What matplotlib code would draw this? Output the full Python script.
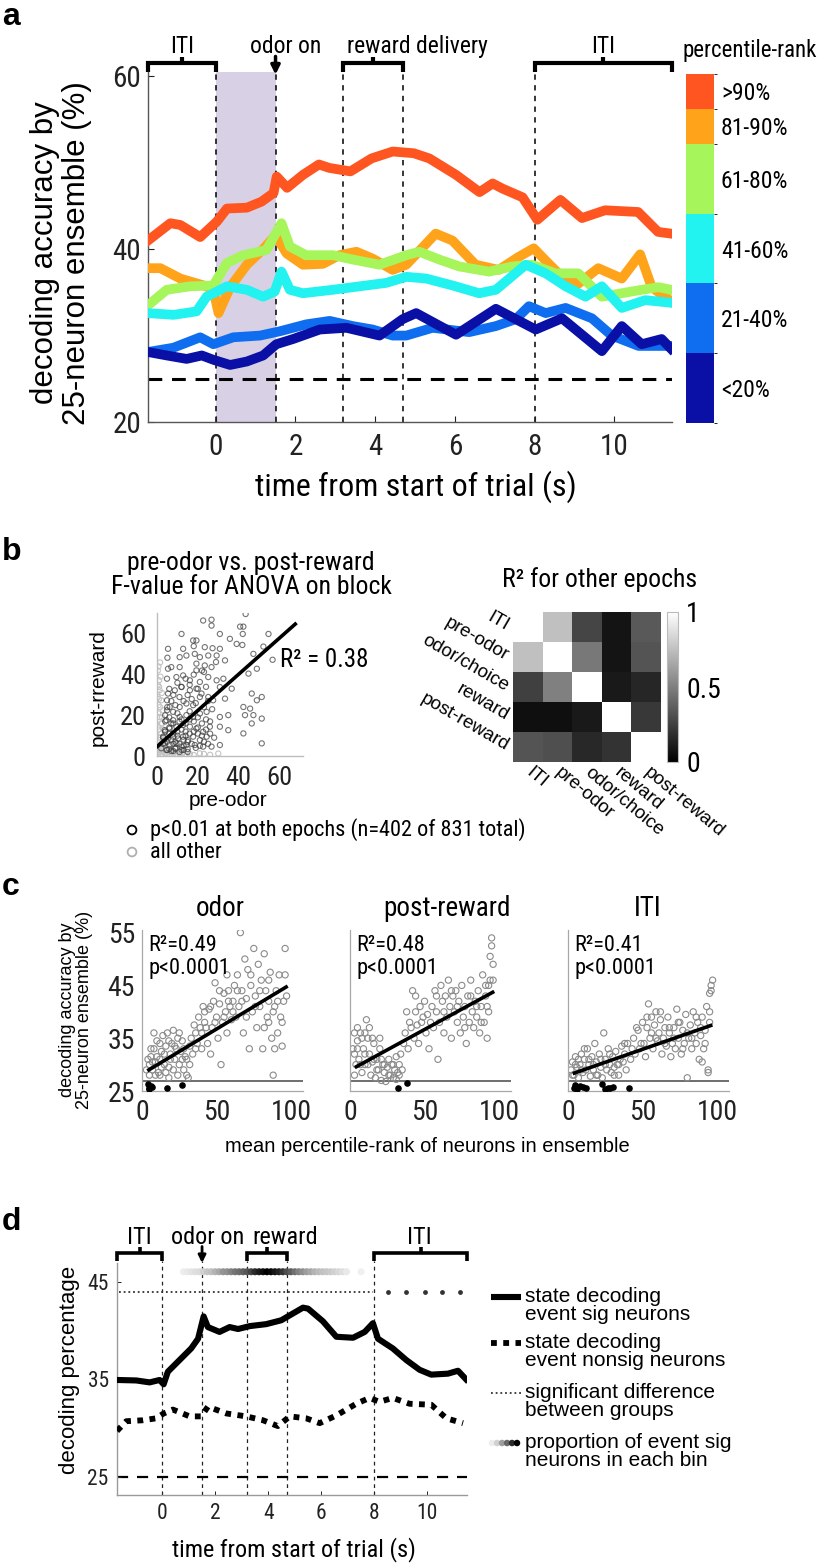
import matplotlib
matplotlib.use("Agg")
import matplotlib.pyplot as plt
from matplotlib import font_manager
from matplotlib.font_manager import FontProperties
from matplotlib.colors import ListedColormap, BoundaryNorm
from matplotlib.cm import ScalarMappable

REG = "Liberation Sans"
plt.rcParams["font.family"] = [REG, "DejaVu Sans"]


def _pick_narrow():
    # ищем узкий шрифт (как Arial Narrow в оригинале), иначе обычный чуть мельче
    best = None
    for f in font_manager.fontManager.ttflist:
        if f.style != "normal" or f.weight not in (400, "normal", "regular", "book"):
            continue
        n, st = f.name.lower(), str(f.stretch)
        if "cjk" in n or "mono" in n:
            continue
        r = None
        if "liberation sans narrow" in n or "arial narrow" in n:
            r = 0
        elif "roboto" in n and ("condensed" in n or st == "condensed"):
            r = 1
        elif "noto sans" in n and (st == "condensed" or n.endswith(" condensed")) \
                and "extra" not in n and "semi" not in n:
            r = 2
        elif "noto sans" in n and (st == "semi-condensed" or "semicondensed" in n):
            r = 3
        elif "dejavu sans" in n and (st == "condensed" or "condensed" in n):
            r = 4
        elif "open sans" in n and ("condensed" in n or st in ("condensed", "semi-condensed")):
            r = 5
        if r is not None and (best is None or r < best[0]):
            best = (r, f.fname)
    return best[1] if best else None


NARROW_FILE = _pick_narrow()


def nfp(size):
    if NARROW_FILE:
        return FontProperties(fname=NARROW_FILE, size=size)
    return FontProperties(family=REG, size=size * 0.9)


def narrow_ticks(ax, size):
    for lab in ax.get_xticklabels() + ax.get_yticklabels():
        lab.set_fontproperties(nfp(size))


# ---------------- panel a: decoding accuracy by percentile-rank group ----------------
event_times = [0.0, 1.5, 3.2, 4.7, 8.0]
odor_window = (0.0, 1.5)
chance_a = 25

t_gt90 = [-1.7, -1.14, -0.89, -0.39, 0.03, 0.28, 0.78, 1.15, 1.45, 1.53, 1.79, 2.19, 2.59, 2.85,
          3.38, 3.91, 4.44, 4.97, 5.36, 6.03, 6.62, 6.95, 7.2, 7.7, 8.07, 8.65, 9.19, 9.77, 10.6,
          11.1, 11.42]
v_gt90 = [41.0, 43.0, 42.8, 41.4, 43.2, 44.7, 44.8, 45.5, 46.5, 48.4, 47.1, 48.6, 49.8, 49.4,
          49.0, 50.5, 51.3, 51.1, 50.5, 48.6, 46.6, 47.6, 47.0, 46.0, 43.4, 45.7, 43.6, 44.5, 44.3,
          42.0, 41.8]
t_81_90 = [-1.7, -1.39, -0.89, -0.3, -0.06, 0.07, 0.36, 0.78, 1.19, 1.5, 1.78, 2.19, 2.69, 3.1,
           3.53, 3.94, 4.44, 4.78, 5.52, 5.94, 6.52, 7.1, 7.6, 7.98, 8.36, 8.69, 9.1, 9.6, 10.19,
           10.65, 10.94, 11.42]
v_81_90 = [37.8, 37.8, 36.6, 35.8, 35.3, 32.6, 35.6, 38.2, 40.0, 41.6, 39.5, 38.2, 38.3, 39.3,
           39.7, 38.9, 37.6, 38.2, 41.8, 41.0, 38.2, 37.6, 39.1, 40.1, 38.3, 36.8, 36.0, 37.8, 36.6,
           39.4, 35.6, 34.0]
t_61_80 = [-1.7, -1.23, -0.64, -0.06, 0.28, 0.69, 1.27, 1.65, 1.86, 2.27, 2.94, 3.44, 4.11, 4.78,
           5.11, 5.61, 6.11, 6.86, 7.44, 7.94, 8.52, 9.1, 9.69, 10.19, 10.69, 11.11, 11.42]
v_61_80 = [33.5, 35.3, 35.7, 35.8, 38.4, 39.3, 39.9, 43.0, 40.3, 39.3, 39.3, 38.8, 38.2, 39.3,
           39.7, 38.8, 38.0, 37.4, 38.0, 38.2, 37.2, 37.2, 34.5, 34.9, 35.3, 35.6, 35.3]
t_41_60 = [-1.7, -1.06, -0.48, -0.23, 0.03, 0.28, 0.78, 1.19, 1.48, 1.65, 1.86, 2.19, 2.94, 3.61,
           4.28, 4.78, 5.28, 5.94, 6.61, 7.03, 7.78, 8.28, 8.78, 9.28, 9.69, 10.19, 10.78, 11.42]
v_41_60 = [32.6, 32.4, 32.8, 34.5, 35.1, 35.7, 35.3, 34.5, 35.1, 37.4, 35.3, 34.9, 35.3, 35.7,
           36.1, 36.8, 36.6, 35.8, 34.9, 35.3, 38.2, 37.2, 35.7, 34.5, 35.7, 33.2, 34.1, 33.8]
t_21_40 = [-1.7, -1.06, -0.39, -0.06, 0.44, 1.11, 1.61, 2.27, 2.86, 3.44, 3.94, 4.44, 4.78, 5.44,
           6.36, 7.03, 7.53, 7.86, 8.28, 8.78, 9.44, 9.94, 10.61, 11.42]
v_21_40 = [28.1, 28.6, 29.8, 29.0, 29.8, 30.0, 30.5, 31.3, 31.7, 31.1, 30.7, 30.0, 30.0, 30.9,
           30.4, 31.1, 31.9, 33.4, 32.6, 33.2, 32.0, 30.0, 28.8, 28.8]
t_lt20 = [-1.7, -1.23, -0.73, -0.35, -0.06, 0.36, 0.78, 1.19, 1.52, 1.94, 2.61, 3.28, 4.11, 4.69,
          5.03, 6.03, 7.03, 8.03, 8.69, 9.69, 10.19, 10.69, 11.19, 11.42]
v_lt20 = [28.1, 27.7, 27.3, 27.7, 27.2, 26.6, 27.0, 27.7, 29.0, 29.6, 30.7, 30.9, 30.0, 31.9,
          32.6, 30.1, 33.1, 30.7, 32.0, 28.2, 31.1, 29.0, 29.6, 28.5]

rank_bounds = [0, 20, 40, 60, 80, 90, 100]
rank_labels = ["<20%", "21-40%", "41-60%", "61-80%", "81-90%", ">90%"]
rank_colors = ["#0a0fa6", "#0f6ef0", "#22f2f0", "#a6f55a", "#ffa31a", "#ff5520"]

# ---------------- panel b: pre-odor vs post-reward F values ----------------
b_sig_x = [43.4, 22.6, 26.7, 26.7, 40.7, 42.3, 42.0, 12.0, 30.8, 54.6, 17.7, 19.3, 35.7, 39.0,
           41.8, 5.4, 12.8, 18.0, 23.4, 27.2, 30.8, 52.1, 5.1, 11.1, 14.4, 18.5, 21.0, 25.1, 29.2,
           28.9, 33.3, 47.2, 56.6, 5.4, 7.0, 11.1, 19.3, 23.4, 19.3, 23.0, 26.7, 48.9, 44.8, 4.9,
           9.5, 12.8, 16.1, 21.0, 25.1, 29.2, 32.5, 30.8, 36.6, 5.4, 8.7, 12.0, 16.1, 19.3, 21.8,
           25.1, 27.5, 33.3, 46.4, 51.3, 48.9, 42.3, 45.6, 43.1, 47.2, 51.3, 46.4, 30.8, 34.9,
           30.8, 34.9, 42.3, 51.3, 30.8, 4.9, 6.2, 4.9, 7.9, 11.1, 14.4, 17.7, 4.6, 7.9, 11.1,
           14.4, 17.7, 21.0, 24.3, 3.8, 6.2, 9.5, 12.8, 16.1, 19.3, 22.6, 25.9, 3.0, 5.4, 7.9,
           10.3, 12.8, 15.2, 17.7, 21.0, 24.3, 3.8, 6.2, 9.5, 12.0, 14.4, 18.5, 22.6, 26.7, 2.1,
           4.6, 6.0, 8.0, 10.0, 9.0, 13.0, 7.0, 11.0, 4.0, 14.0, 16.0, 20.0, 6.0, 8.0, 12.0, 15.0,
           3, 5, 7, 9, 11, 13, 15, 17, 19, 21, 23, 25, 4, 6, 8, 10, 12, 14, 16, 18, 20, 22, 24, 26,
           28, 4, 6, 8, 10, 12, 14, 16, 18, 20, 22, 24, 26, 5, 7, 9, 11, 13, 15, 17, 19, 21, 23,
           25, 27, 6, 8, 10, 12, 14, 16, 18, 20, 22, 24, 3, 5, 7, 9, 11, 13, 15]
b_sig_y = [69.8, 66.6, 67.0, 64.1, 63.6, 63.6, 60.0, 60.0, 60.0, 60.0, 56.8, 56.8, 57.6, 55.1,
           54.6, 52.7, 52.7, 54.0, 53.5, 53.0, 52.7, 53.8, 48.3, 48.6, 49.4, 50.2, 48.6, 49.4, 49.4,
           46.2, 47.0, 50.2, 47.3, 42.9, 43.7, 43.7, 45.4, 44.5, 42.1, 41.3, 43.7, 42.9, 40.5, 38.0,
           38.8, 39.6, 37.2, 36.4, 38.8, 37.2, 38.0, 33.9, 33.1, 30.7, 32.3, 33.9, 32.3, 33.1, 30.7,
           29.0, 27.4, 28.2, 30.7, 29.0, 27.4, 24.1, 23.3, 20.1, 20.1, 18.4, 16.0, 19.2, 20.1,
           14.4, 12.7, 11.1, 6.2, 5.4, 27.4, 24.1, 22.5, 21.7, 24.1, 25.8, 25.0, 17.6, 17.6, 19.2,
           20.1, 19.2, 20.9, 21.7, 12.7, 13.5, 14.4, 15.2, 14.4, 13.5, 11.9, 14.4, 9.5, 8.6, 9.5,
           8.6, 9.5, 7.8, 9.5, 7.8, 9.5, 6.2, 5.4, 6.2, 4.6, 5.4, 5.4, 4.6, 4.6, 3.8,
           2.9, 11.0, 6.0, 12.0, 4.0, 8.0, 16.0, 17.0, 20.0, 12.0, 18.0, 11.0, 3.5, 2.5, 3.0, 3.5,
           6, 7, 8, 7, 6, 5, 7, 6, 4, 5, 7, 6, 12, 14, 11, 10, 13, 10, 11, 12, 14, 10, 13, 11,
           9, 17, 19, 16, 21, 18, 16, 22, 17, 19, 16, 18, 17, 24, 27, 25, 29, 27, 30, 28, 26, 29,
           24, 27, 23, 33, 30, 36, 34, 38, 35, 40, 33, 42, 34, 9, 3, 2.5, 3.5, 2, 3, 2]
b_oth_x = [1.3, 2.6, 1.0, 2.1, 0.5, 1.3, 3.0, 2.1, 1.3, 1.0, 3.8, 7.0, 11.1, 16.1, 21.0, 0.0, 0.7,
           1.8, 2.5, 0.8, 3.5, 5.0, 6.5, 9.0, 13.5, 0.4, 1.5, 4.0, 0.3, 1.0, 2.2, 0.6, 0.5, 1.2,
           0.8, 2.0, 0.6, 1.5, 0.9, 2.4, 0.4, 1.7, 0.7, 2.8, 4.5, 6.0, 8.5, 10.0, 12.5, 14.5, 18.0,
           23.0, 26.0, 30.0, 3.0, 2.5, 1.0, 2.0, 3.5]
b_oth_y = [2.1, 4.6, 7.8, 11.1, 14.4, 19.2, 22.5, 27.4, 32.3, 37.2, 1.3, 1.0, 1.3, 1.0, 1.3, 1.3,
           3.8, 9.0, 16.0, 25.0, 5.0, 0.6, 2.0, 0.8, 0.5, 42.0, 46.0, 12.0, 29.0, 34.0, 0.4, 0.8,
           5.0, 9.0, 13.0, 16.0, 21.0, 24.0, 28.0, 31.0, 35.0, 39.0, 44.0, 2.0, 1.5, 0.4, 1.8, 0.6,
           1.5, 0.8, 0.5, 1.0, 0.6, 1.2, 13.0, 19.0, 3.0, 6.0, 8.0]
b_fit_slope, b_fit_icpt, b_fit_xmax = 0.89, 4.6, 67.7
b_r2_text = "R² = 0.38"

epochs = ["ITI", "pre-odor", "odor/choice", "reward", "post-reward"]
r2_matrix = [[1.00, 0.75, 0.27, 0.08, 0.35],
             [0.75, 1.00, 0.47, 0.08, 0.33],
             [0.25, 0.50, 1.00, 0.10, 0.15],
             [0.06, 0.06, 0.10, 1.00, 0.22],
             [0.33, 0.31, 0.16, 0.20, 1.00]]

# ---------------- panel c: accuracy vs mean percentile-rank ----------------
c_titles = ["odor", "post-reward", "ITI"]
c_stats = ["R²=0.49\np<0.0001", "R²=0.48\np<0.0001", "R²=0.41\np<0.0001"]
c_odor_x = [5, 6, 7, 8, 9, 10, 11, 12, 13, 14, 15, 16, 17, 18, 19, 20, 21, 22, 23, 24, 25, 26, 27,
            28, 29, 30, 31, 32, 8, 12, 18, 5, 33, 35, 36, 38, 40, 41, 42, 44, 45, 47, 48, 50, 51,
            52, 54, 55, 56, 57, 58, 59, 60, 46, 53, 42, 49, 57, 61, 62, 63, 64, 65, 66, 67, 68, 69,
            70, 71, 72, 73, 74, 75, 76, 77, 78, 79, 80, 81, 82, 83, 84, 85, 86, 87, 88, 89, 90, 91,
            92, 93, 94, 95, 96, 97, 85, 89,
            3, 4, 6, 7, 9, 10, 12, 13, 15, 16, 18, 19, 21, 22, 24, 25, 27, 28, 30, 32, 34, 36, 37,
            39, 40, 43, 46, 49, 52, 55, 58, 61, 64, 67, 70, 73, 76, 79, 82, 85, 88, 91, 94, 96]
c_odor_y = [30, 31.5, 29, 33, 30.5, 34.5, 28.5, 31, 32.5, 35.5, 30, 33.5, 36, 29.5, 32, 34, 36.5,
            31, 33, 35, 30, 32.5, 34.5, 29, 31.5, 28, 27.5, 30, 36, 28, 27.5, 28, 35, 37.5, 33, 39,
            36, 41, 38, 34, 40.5, 37, 42, 39, 35, 41.5, 38, 43.5, 40, 36, 44, 41, 38.5, 32, 30, 40,
            45.5, 47, 42, 45, 39, 47, 41, 55, 44, 36, 50, 42.5, 48, 33, 45, 40, 52, 43, 37, 49, 41,
            46, 33, 51, 44, 39, 42, 47.5, 35, 28, 41, 44, 36, 47, 39, 33.5, 42, 52, 43, 38, 33,
            29, 31, 33, 30.5, 28, 31.5, 34, 29.5, 32, 28.5, 34.5, 31, 29, 33.5, 28, 36, 31, 33, 31,
            33.5, 32, 36, 34, 37, 33, 37, 41, 38, 44, 39, 42, 40, 44, 42, 39, 47, 41, 44, 37, 46,
            40, 42, 38, 47]
c_odor_dot_x = [4, 5, 6, 5, 7, 17, 27]
c_odor_dot_y = [26.3, 25.6, 26.0, 25.3, 25.8, 25.6, 26.2]
c_post_x = [2, 3, 4, 5, 6, 7, 8, 9, 10, 11, 12, 13, 14, 15, 16, 17, 18, 19, 20, 21, 22, 23, 24, 25,
            26, 27, 28, 29, 30, 31, 32, 33, 34, 35, 5, 10, 15, 3, 37, 38, 39, 40, 42, 43, 44, 45,
            46, 47, 48, 50, 51, 52, 53, 55, 56, 57, 58, 59, 60, 61, 62, 63, 64, 65, 66, 67, 68, 69,
            70, 71, 72, 73, 74, 75, 76, 77, 78, 79, 80, 81, 82, 83, 84, 85, 86, 87, 88, 89, 90, 91,
            92, 93, 94, 95, 95, 96, 94, 92,
            3, 5, 7, 8, 10, 12, 13, 16, 18, 20, 21, 23, 26, 29, 31, 33, 36, 41, 44, 49, 54, 58, 63,
            68, 72, 77, 81, 85, 88, 91, 93, 96]
c_post_y = [33, 36, 30, 34.5, 31, 36, 28.5, 33, 30, 38.5, 35, 32, 28, 30.5, 34, 27.5, 31, 29, 33,
            27, 30, 28.5, 26.8, 29.5, 31, 28, 30, 27.5, 29, 31.5, 28.5, 30, 32, 29, 37, 36, 35, 28,
            36, 40, 33, 38, 44, 35, 40, 37.5, 34, 41, 38, 42, 36, 39.5, 33, 41, 37, 44, 40, 31, 38,
            45, 42, 36, 43, 39, 46, 41, 35, 43, 40, 44, 38, 42, 36, 45, 39, 41, 34, 43, 38, 46, 40,
            37, 42, 39, 44, 36, 41, 47, 38, 43, 35, 45, 46, 54, 52.5, 49, 50.5, 41,
            32, 33, 30, 35, 32, 30, 37, 31, 29, 35, 31, 30, 28, 30, 27.2, 28, 34, 37, 43, 39, 38,
            43, 40, 44, 41, 37, 43, 41, 38, 45, 40, 46]
c_post_dot_x = [32, 38]
c_post_dot_y = [25.5, 26.5]
c_iti_x = [2, 3, 4, 5, 6, 7, 8, 9, 10, 11, 12, 13, 14, 15, 16, 17, 18, 19, 20, 21, 22, 23, 24, 25,
           26, 27, 28, 29, 30, 31, 32, 33, 34, 35, 36, 37, 38, 39, 40, 42, 44, 45, 47, 48, 50, 51,
           52, 53, 54, 55, 56, 57, 58, 59, 60, 61, 62, 63, 64, 65, 66, 67, 68, 69, 70, 71, 72, 73,
           74, 75, 76, 77, 78, 79, 80, 81, 82, 83, 84, 85, 86, 87, 88, 89, 90, 91, 92, 93, 94, 95,
           96, 97, 96, 95, 94, 90,
           3, 5, 7, 9, 11, 14, 17, 19, 22, 25, 28, 31, 34, 38, 43, 46, 49, 53, 56, 59, 62, 65, 68,
           71, 74, 77, 80, 83, 86, 89, 92, 95]
c_iti_y = [29, 30.5, 28, 31.5, 29.5, 27.5, 30, 32, 28.5, 31, 29, 33, 30, 27.8, 31.5, 29, 34, 30.5,
           28, 32, 29.5, 27.5, 36, 31, 29, 33, 30, 28.5, 31.5, 29.5, 32.5, 30, 28, 31, 33.5, 30.5,
           32, 29, 34, 31, 35, 32, 36.5, 33, 38, 34, 31.5, 37, 41.5, 35, 39, 33, 37.5, 40, 34.5, 36,
           38.5, 32, 35, 37, 33.5, 39, 36, 31.5, 34, 37, 33, 40.5, 35, 38, 32, 36.5, 34, 39.5, 27.5,
           35, 37.5, 33, 40, 36, 34, 38, 31, 35.5, 39, 33, 36.5, 41, 29, 38, 44, 46, 45, 43.5, 28.5,
           30.5,
           28, 30, 31, 29, 33, 31, 30, 28, 31, 30, 32, 28, 30, 34, 33, 37, 34, 39, 36, 35, 40, 34,
           37, 35, 38, 33, 36, 35, 39, 37, 34, 40]
c_iti_dot_x = [4, 5, 6, 8, 10, 12, 23, 25, 27, 28, 30, 41]
c_iti_dot_y = [25.6, 26.2, 25.3, 26.0, 25.8, 25.5, 26.3, 25.4, 25.6, 25.5, 25.7, 25.5]
c_fits = [((4.6, 96.7), (29.0, 44.7)), ((4.3, 95.7), (29.6, 43.7)), ((4.3, 95.7), (28.4, 37.4))]
c_threshold = 26.8

# ---------------- panel d: event-sig vs nonsig neurons ----------------
d_sig_t = [-1.71, -0.98, -0.48, -0.1, 0.05, 0.21, 0.65, 1.09, 1.35, 1.56, 1.72, 2.16, 2.54, 2.86,
           3.3, 3.92, 4.49, 4.93, 5.31, 5.5, 6.06, 6.57, 7.2, 7.64, 7.95, 8.14, 8.7, 9.21, 9.71,
           10.15, 10.78, 11.16, 11.47]
d_sig_v = [34.95, 34.9, 34.7, 34.95, 34.5, 35.8, 37.0, 38.2, 39.2, 41.5, 40.4, 39.9, 40.4, 40.2,
           40.5, 40.7, 41.1, 41.8, 42.4, 42.3, 41.0, 39.4, 39.3, 39.9, 40.8, 39.2, 38.2, 37.0, 36.0,
           35.5, 35.6, 35.9, 35.0]
d_non_t = [-1.71, -1.36, -0.73, -0.23, 0.05, 0.4, 1.03, 1.47, 1.72, 2.42, 3.17, 3.8, 4.36, 4.81,
           5.43, 5.94, 6.57, 7.32, 7.82, 8.2, 8.7, 9.33, 10.15, 10.72, 11.35]
d_non_v = [29.7, 30.7, 30.8, 31.0, 31.5, 31.9, 31.2, 31.2, 32.2, 31.5, 31.2, 30.8, 30.2, 31.2,
           31.0, 30.5, 31.3, 32.5, 33.1, 32.7, 33.1, 32.5, 32.4, 31.0, 30.5]
d_sigdiff_span = (-1.65, 7.95)
d_sigdiff_single = [8.52, 9.21, 9.9, 10.57, 11.25]
d_sigdiff_level = 44.0
prop_t = [0.8, 0.95, 1.1, 1.25, 1.4, 1.55, 1.7, 1.85, 2.0, 2.15, 2.3, 2.45, 2.6, 2.75, 2.9, 3.05,
          3.2, 3.35, 3.5, 3.65, 3.8, 3.95, 4.1, 4.25, 4.4, 4.55, 4.7, 4.85, 5.0, 5.15, 5.3, 5.45,
          5.6, 5.75, 5.9, 6.05, 6.2, 6.35, 6.5, 6.65, 6.8, 6.95, 7.5]
prop_v = [0.10, 0.12, 0.15, 0.18, 0.20, 0.25, 0.30, 0.33, 0.38, 0.42, 0.48, 0.50, 0.55, 0.60,
          0.63, 0.68, 0.72, 0.78, 0.85, 0.90, 0.95, 1.00, 0.97, 0.92, 0.88, 0.82, 0.75, 0.70, 0.62,
          0.55, 0.50, 0.45, 0.42, 0.38, 0.35, 0.32, 0.30, 0.28, 0.25, 0.22, 0.18, 0.12, 0.08]
prop_level = 46.1
chance_d = 25
d_legend = ["state decoding\nevent sig neurons", "state decoding\nevent nonsig neurons",
            "significant difference\nbetween groups", "proportion of event sig\nneurons in each bin"]

# ============================ drawing ============================
W, H = 828, 1567
fig = plt.figure(figsize=(W / 100, H / 100), dpi=100)


def px_axes(left, top, right, bottom):
    return fig.add_axes([left / W, 1 - bottom / H, (right - left) / W, (bottom - top) / H])


def bracket(ax, x0, x1, ybar, yend, ytick, lw):
    ax.plot([x0, x0, x1, x1], [yend, ybar, ybar, yend], color="k", lw=lw, clip_on=False,
            solid_joinstyle="miter", solid_capstyle="butt")
    xm = (x0 + x1) / 2
    ax.plot([xm, xm], [ybar, ytick], color="k", lw=lw, clip_on=False, solid_capstyle="butt")


def light_spines(ax, color="#9a9a9a", lw=0.9):
    for s in ("top", "right"):
        ax.spines[s].set_visible(False)
    for s in ("left", "bottom"):
        ax.spines[s].set_color(color)
        ax.spines[s].set_linewidth(lw)


# ---- a ----
ax = px_axes(148, 72, 672, 422)
ax.set_xlim(-1.7, 11.45)
ax.set_ylim(20, 60.5)
ax.axvspan(*odor_window, color="#d8d1e5", lw=0, zorder=0)
for ev in event_times:
    ax.plot([ev, ev], [20, 60.5], color="k", lw=1.1, ls=(0, (3.5, 3.5)), zorder=1)
ax.axhline(chance_a, color="k", lw=2.2, ls=(0, (4.5, 3.2)), zorder=1)
series = [(t_21_40, v_21_40, 1), (t_lt20, v_lt20, 0), (t_81_90, v_81_90, 4),
          (t_61_80, v_61_80, 3), (t_41_60, v_41_60, 2), (t_gt90, v_gt90, 5)]
for tt, vv, ci in series:
    ax.plot(tt, vv, color=rank_colors[ci], lw=7, solid_joinstyle="round", zorder=3)
light_spines(ax, "#555555", 1.0)
ax.set_xticks([0, 2, 4, 6, 8, 10])
ax.set_yticks([20, 40, 60])
ax.tick_params(direction="in", length=4, width=0.8, pad=8, colors="#222222")
ax.tick_params(axis="y", pad=5)
narrow_ticks(ax, 21)
for lo, hi in [(-1.7, 0.0), (3.2, 4.7), (8.0, 11.45)]:
    bracket(ax, lo, hi, 61.5, 60.5, 62.2, 3.0)
ax.annotate("", xy=(1.5, 60.2), xytext=(1.5, 62.3), annotation_clip=False,
            arrowprops=dict(arrowstyle="-|>", color="k", lw=2.5, mutation_scale=13,
                            shrinkA=0, shrinkB=0))
for xt, lab in [(-0.85, "ITI"), (1.75, "odor on"), (5.05, "reward delivery"), (9.72, "ITI")]:
    ax.text(xt, 62.75, lab, ha="center", va="baseline", fontproperties=nfp(17), clip_on=False)

cax = px_axes(686, 74, 714, 423)
cmap = ListedColormap(rank_colors)
norm = BoundaryNorm(rank_bounds, cmap.N)
cb = fig.colorbar(ScalarMappable(norm=norm, cmap=cmap), cax=cax, spacing="proportional",
                  ticks=[(a + b) / 2 for a, b in zip(rank_bounds[:-1], rank_bounds[1:])])
cb.set_ticklabels(rank_labels)
cb.outline.set_visible(False)
cax.tick_params(length=0, pad=5)
narrow_ticks(cax, 17)

# ---- b: scatter ----
ax = px_axes(157, 613, 303, 756)
ax.set_xlim(0, 71.5)
ax.set_ylim(0, 70.3)
ax.scatter(b_oth_x, b_oth_y, s=14, facecolors="none", edgecolors="#c4c4c4", linewidths=0.8,
           zorder=2)
ax.scatter(b_sig_x, b_sig_y, s=14, facecolors="none", edgecolors="#3a3a3a", linewidths=0.8,
           alpha=0.7, zorder=3)
ax.plot([0, b_fit_xmax], [b_fit_icpt, b_fit_icpt + b_fit_slope * b_fit_xmax], color="k", lw=2.6,
        zorder=4)
ax.text(60, 47, b_r2_text, ha="left", va="center", fontproperties=nfp(18))
light_spines(ax, "#bdbdbd", 1.0)
ax.set_xticks([0, 20, 40, 60])
ax.set_yticks([0, 20, 40, 60])
ax.tick_params(length=0, pad=7, colors="#222222")
ax.tick_params(axis="y", pad=8)
narrow_ticks(ax, 19)

# ---- b: R2 matrix ----
ax = px_axes(513, 612, 661, 762)
im = ax.imshow(r2_matrix, cmap="gray", vmin=0, vmax=1, aspect="auto", interpolation="nearest")
ax.set_xticks(range(len(epochs)))
ax.set_yticks(range(len(epochs)))
ax.set_xticklabels(epochs, rotation=-40, ha="left", va="center", rotation_mode="anchor",
                   fontfamily=REG, fontsize=13.5)
ax.set_yticklabels(epochs, rotation=-30, ha="right", va="center", rotation_mode="anchor",
                   fontfamily=REG, fontsize=13.5)
ax.tick_params(length=0, pad=4)
ax.tick_params(axis="x", pad=6)
for s in ax.spines.values():
    s.set_visible(False)
cax2 = px_axes(667, 612, 678, 762)
cb2 = fig.colorbar(im, cax=cax2, ticks=[0, 0.5, 1])
cb2.set_ticklabels(["0", "0.5", "1"])
cb2.outline.set_edgecolor("#bbbbbb")
cb2.outline.set_linewidth(0.8)
cax2.tick_params(length=0, pad=6)
narrow_ticks(cax2, 20)

# ---- c ----
c_data = [(c_odor_x, c_odor_y, c_odor_dot_x, c_odor_dot_y),
          (c_post_x, c_post_y, c_post_dot_x, c_post_dot_y),
          (c_iti_x, c_iti_y, c_iti_dot_x, c_iti_dot_y)]
c_lefts = [142, 350, 568]
for i, (xs, ys, dx, dy) in enumerate(c_data):
    ax = px_axes(c_lefts[i], 930, c_lefts[i] + 161, 1091)
    ax.set_xlim(0, 108)
    ax.set_ylim(25, 55.5)
    ax.axhline(c_threshold, color="#555555", lw=1.2, zorder=1)
    ax.scatter(xs, ys, s=20, facecolors="none", edgecolors="#8a8a8a", linewidths=0.8, zorder=2)
    ax.scatter(dx, dy, s=14, color="k", zorder=3)
    (fx, fy) = c_fits[i]
    ax.plot(fx, fy, color="k", lw=2.6, zorder=4)
    light_spines(ax, "#a8a8a8", 0.9)
    ax.set_xticks([0, 50, 100])
    ax.set_yticks([25, 35, 45, 55] if i == 0 else [])
    ax.tick_params(length=0, pad=6, colors="#222222")
    ax.tick_params(axis="y", pad=5)
    narrow_ticks(ax, 20)
    ax.text(0.04, 0.97, c_stats[i], transform=ax.transAxes, ha="left", va="top",
            fontproperties=nfp(16), linespacing=1.15)

# ---- d ----
ax = px_axes(117, 1263, 467, 1495)
ax.set_xlim(-1.71, 11.5)
ax.set_ylim(23.1, 47.0)
for ev in event_times:
    ax.plot([ev, ev], [23.1, 47.2], color="#222222", lw=0.9, ls=(0, (3, 3)), clip_on=False,
            zorder=1)
ax.axhline(chance_d, color="k", lw=1.6, ls=(0, (5, 4)), zorder=1)
ax.plot(d_sigdiff_span, [d_sigdiff_level] * 2, color="#333333", lw=1.3, ls=(0, (1, 1.6)),
        zorder=2)
ax.scatter(d_sigdiff_single, [d_sigdiff_level] * len(d_sigdiff_single), s=6, color="#333333",
           zorder=2)
ax.scatter(prop_t, [prop_level] * len(prop_t), c=prop_v, cmap="Greys", vmin=-0.05, vmax=1.0,
           s=26, linewidths=0, zorder=2)
ax.plot(d_sig_t, d_sig_v, color="k", lw=4.4, solid_joinstyle="round", zorder=3)
ax.plot(d_non_t, d_non_v, color="k", lw=4.2, ls=(0, (1, 1.1)), dash_capstyle="butt", zorder=3)
light_spines(ax, "#9a9a9a", 1.0)
ax.set_xticks([0, 2, 4, 6, 8, 10])
ax.set_yticks([25, 35, 45])
ax.tick_params(direction="in", length=3, width=0.7, pad=6, colors="#222222")
narrow_ticks(ax, 15.5)
for lo, hi in [(-1.71, 0.0), (3.2, 4.7), (8.0, 11.5)]:
    bracket(ax, lo, hi, 48.0, 47.2, 48.6, 2.6)
ax.annotate("", xy=(1.5, 47.0), xytext=(1.5, 48.7), annotation_clip=False,
            arrowprops=dict(arrowstyle="-|>", color="k", lw=2.0, mutation_scale=11,
                            shrinkA=0, shrinkB=0))
for xt, lab in [(-0.86, "ITI"), (1.72, "odor on"), (4.62, "reward"), (9.71, "ITI")]:
    ax.text(xt, 49.0, lab, ha="center", va="baseline", fontproperties=nfp(17.5), clip_on=False)

# ---- overlay: panel letters, axis labels, legends (pixel coordinates) ----
ov = fig.add_axes([0, 0, 1, 1], zorder=10)
ov.set_xlim(0, W)
ov.set_ylim(H, 0)
ov.axis("off")
for lab, y in [("a", 25), ("b", 560), ("c", 895), ("d", 1230)]:
    ov.text(2, y, lab, fontsize=23, fontweight="bold", fontfamily=REG, va="baseline")

ov.text(61, 253, "decoding accuracy by\n25-neuron ensemble (%)", rotation=90, ha="center",
        va="center", fontsize=22.5, fontfamily=REG, linespacing=1.05)
ov.text(416, 487, "time from start of trial (s)", ha="center", va="center",
        fontproperties=nfp(23))
ov.text(683, 57, "percentile-rank", ha="left", va="baseline", fontproperties=nfp(16.5))

ov.text(251, 575, "pre-odor vs. post-reward\nF-value for ANOVA on block", ha="center",
        va="center", fontproperties=nfp(18.5), linespacing=1.0)
ov.text(600, 580, "R² for other epochs", ha="center", va="center", fontproperties=nfp(18.5))
ov.text(98, 688, "post-rreward", rotation=90, ha="center", va="center", fontsize=15,
        fontfamily=REG)
ov.text(228, 801, "pre-odor", ha="center", va="center", fontsize=15, fontfamily=REG)
ov.scatter([132], [830], s=40, facecolors="none", edgecolors="k", linewidths=1.3)
ov.scatter([132], [852], s=40, facecolors="none", edgecolors="#b0b0b0", linewidths=1.3)
ov.text(150, 830, "p<0.01 at both epochs (n=402 of 831 total)", ha="left", va="center",
        fontproperties=nfp(16))
ov.text(150, 852, "all other", ha="left", va="center", fontproperties=nfp(16))

for i, title in enumerate(c_titles):
    ov.text([220, 447, 648][i], 908, title, ha="center", va="center", fontproperties=nfp(19.5))
ov.text(76, 1010, "decoding accuracy by\n25-neuron ensemble (%)", rotation=90, ha="center",
        va="center", fontsize=13, fontfamily=REG, linespacing=1.05)
ov.text(427, 1147, "mean percentile-rank of neurons in ensemble", ha="center", va="center",
        fontsize=14.5, fontfamily=REG)

ov.text(70, 1370, "decoding percentage", rotation=90, ha="center", va="center", fontsize=16,
        fontfamily=REG)
ov.text(294, 1550, "time from start of trial (s)", ha="center", va="center",
        fontproperties=nfp(17.5))

leg_y = [1297, 1343, 1393, 1443]
ov.plot([491, 521], [leg_y[0]] * 2, color="k", lw=4.4, solid_capstyle="butt")
ov.plot([491, 521], [leg_y[1]] * 2, color="k", lw=4.2, ls=(0, (1, 1.1)), dash_capstyle="butt")
ov.plot([491, 521], [leg_y[2]] * 2, color="#333333", lw=1.3, ls=(0, (1, 1.6)))
ov.scatter([492, 497, 502, 507, 512, 517], [leg_y[3]] * 6, c=[0.1, 0.25, 0.45, 0.65, 0.85, 1.0],
           cmap="Greys", vmin=-0.05, vmax=1.0, s=22, linewidths=0)
for y, lab in zip(leg_y, d_legend):
    ov.text(525, y - 10, lab, ha="left", va="top", fontsize=15, fontfamily=REG, linespacing=0.95)

fig.savefig("out.png", dpi=100)
